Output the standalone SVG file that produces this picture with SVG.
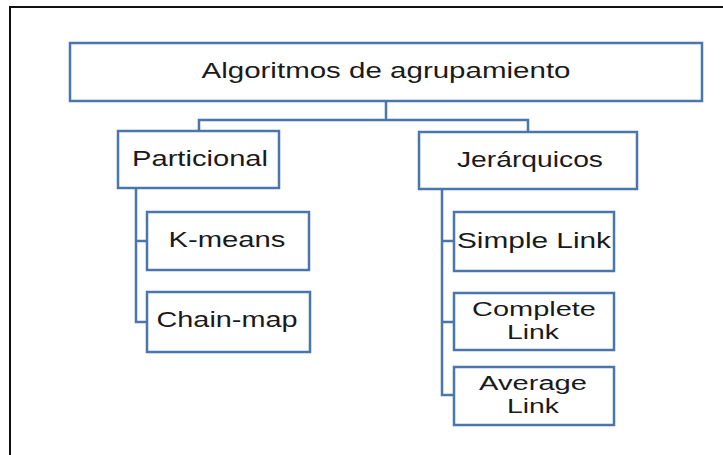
<svg xmlns="http://www.w3.org/2000/svg" width="723" height="455" viewBox="0 0 723 455">
<style>
.box{fill:#fff;stroke:#4A76AD;stroke-width:2.5}
.con{fill:none;stroke:#4A76AD;stroke-width:2.5}
.t{font-family:"Liberation Sans",Arial,sans-serif;font-size:22px;fill:#1a1a1a;text-anchor:middle}
.t2{font-size:20px}
</style>
<rect x="0" y="0" width="723" height="455" fill="#fff"/>
<path d="M10 460 V7 H730" fill="none" stroke="#111" stroke-width="2"/>
<g id="connectors">
<path class="con" d="M386 101 V120 M199 131 V120 H528 V132"/>
<path class="con" d="M136 188 V322 H147 M136 241 H147"/>
<path class="con" d="M442 189 V395 H454 M442 241 H454 M442 322 H454"/>
</g>
<g id="root">
<rect class="box" x="70" y="43" width="632" height="58"/>
<text class="t" x="386" y="78" textLength="369" lengthAdjust="spacingAndGlyphs">Algoritmos de agrupamiento</text>
</g>
<g id="particional">
<rect class="box" x="118" y="131" width="161" height="57"/>
<text class="t" x="200" y="166" textLength="136" lengthAdjust="spacingAndGlyphs">Particional</text>
</g>
<g id="jerarquicos">
<rect class="box" x="419" y="132" width="218" height="57"/>
<text class="t" x="530" y="167" textLength="146" lengthAdjust="spacingAndGlyphs">Jerárquicos</text>
</g>
<g id="kmeans">
<rect class="box" x="147" y="212" width="162" height="58"/>
<text class="t" x="227" y="247" textLength="117" lengthAdjust="spacingAndGlyphs">K-means</text>
</g>
<g id="chainmap">
<rect class="box" x="147" y="292" width="163" height="60"/>
<text class="t" x="227" y="327" textLength="141" lengthAdjust="spacingAndGlyphs">Chain-map</text>
</g>
<g id="simplelink">
<rect class="box" x="454" y="212" width="160" height="59"/>
<text class="t" x="534" y="248" textLength="154" lengthAdjust="spacingAndGlyphs">Simple Link</text>
</g>
<g id="completelink">
<rect class="box" x="454" y="293" width="160" height="57"/>
<text class="t t2" x="534" y="316" textLength="124" lengthAdjust="spacingAndGlyphs">Complete</text>
<text class="t t2" x="533" y="339" textLength="52" lengthAdjust="spacingAndGlyphs">Link</text>
</g>
<g id="averagelink">
<rect class="box" x="454" y="367" width="160" height="58"/>
<text class="t t2" x="533" y="390" textLength="108" lengthAdjust="spacingAndGlyphs">Average</text>
<text class="t t2" x="533" y="413" textLength="52" lengthAdjust="spacingAndGlyphs">Link</text>
</g>
</svg>
